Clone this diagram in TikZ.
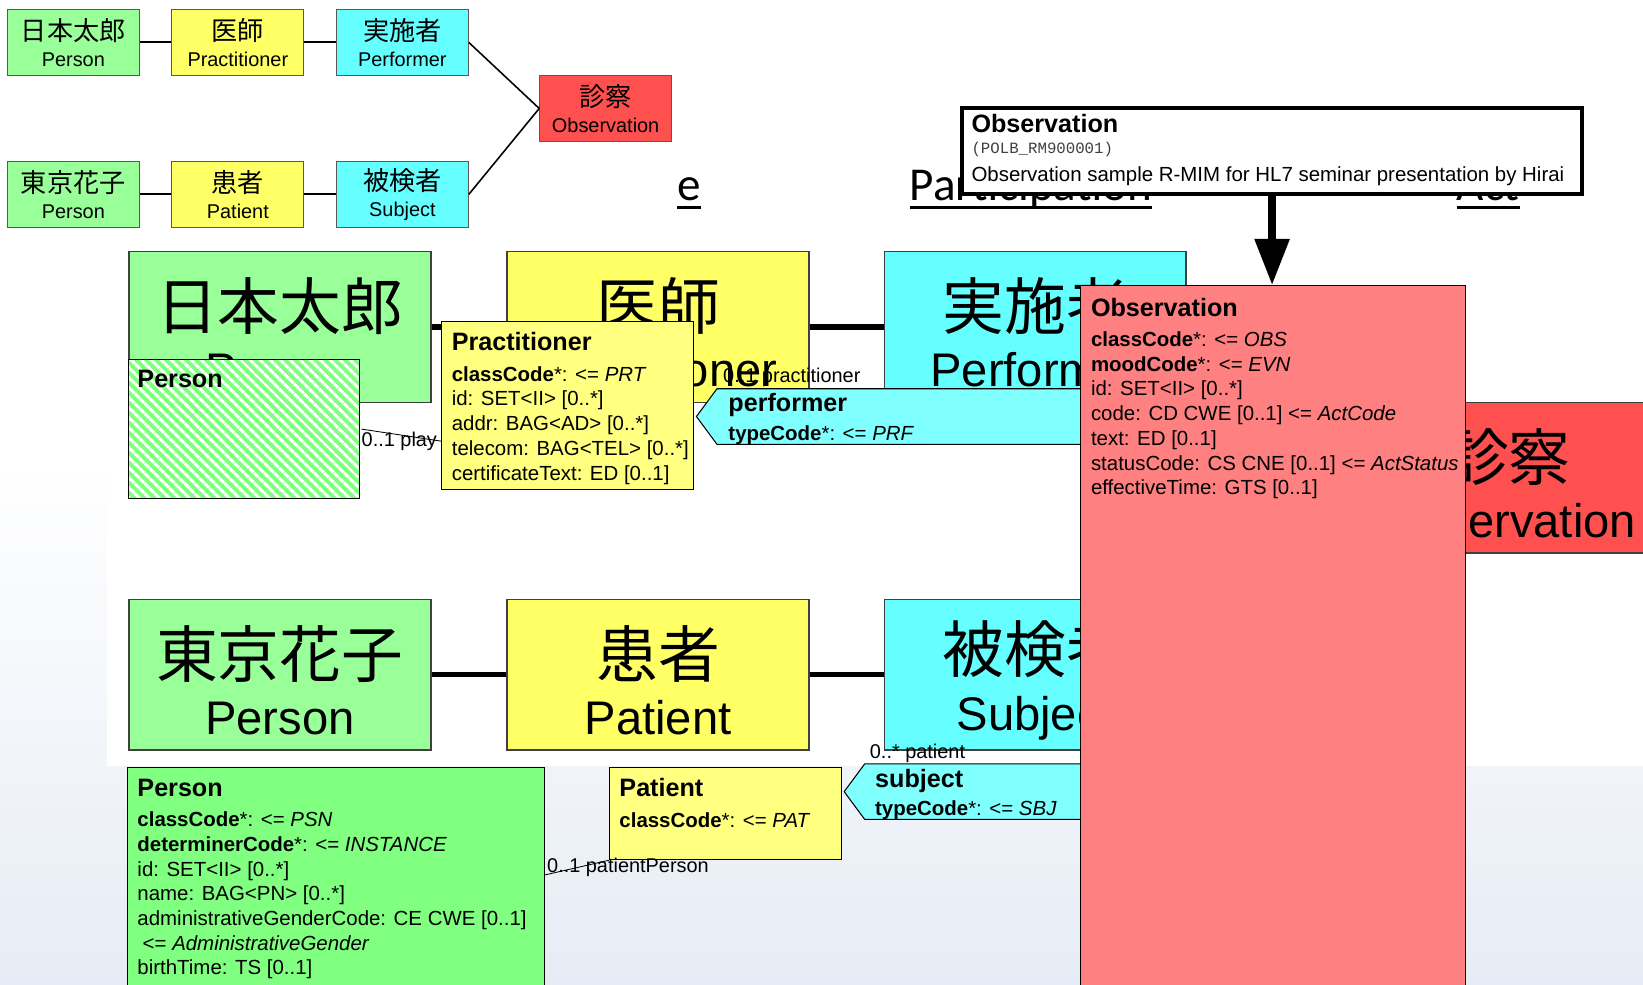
\documentclass[tikz,border=0pt]{standalone}
\usepackage{fontspec}
\setmainfont{Liberation Sans}
\setmonofont{Liberation Mono}
\newfontfamily\jpfont{Noto Sans CJK JP}
\newfontfamily\slidefont{Carlito}
\usepackage{tikz}
\usetikzlibrary{calc,shapes,arrows.meta,patterns.meta}

\definecolor{rolegreen}{HTML}{99FF99}
\definecolor{roleyellow}{HTML}{FFFF66}
\definecolor{rolecyan}{HTML}{66FFFF}
\definecolor{actred}{HTML}{FF5050}
\definecolor{clsgreen}{HTML}{80FF80}
\definecolor{clsyellow}{HTML}{FFFF80}
\definecolor{clscyan}{HTML}{80FFFF}
\definecolor{clsred}{HTML}{FF8080}
\definecolor{slidebg}{HTML}{E6ECF5}

\tikzstyle{minibox}=[rectangle,draw=black!65,line width=0.8pt,minimum width=126pt,
                     minimum height=63pt,inner sep=0pt,align=center,font=\fontsize{19}{25}\selectfont]
\tikzstyle{bigbox}=[rectangle,draw=black!75,line width=1.6pt,minimum width=288pt,
                    minimum height=144pt,inner sep=0pt,align=center,font=\fontsize{45}{55}\selectfont]
\tikzstyle{clsbox}=[rectangle,draw=black,line width=1pt,anchor=north west,inner sep=0pt]
\tikzstyle{partbox}=[signal,signal to=west,signal pointer angle=107,draw=black,line width=1pt,
                     fill=clscyan,minimum height=53pt,minimum width=390pt,anchor=west,inner sep=0pt]
\tikzstyle{clstext}=[anchor=north west,inner sep=0pt,align=left,font=\fontsize{19.5}{23.6}\selectfont]
\tikzstyle{assoclabel}=[anchor=base west,inner sep=0pt,font=\fontsize{19}{22}\selectfont]
\tikzstyle{slideword}=[anchor=base west,inner sep=0pt,font=\slidefont\fontsize{45}{54}\selectfont]

\newcommand\mininame[2]{{\jpfont\fontsize{25}{25}\selectfont #1}\\#2}
\newcommand\bigname[2]{{\jpfont\fontsize{59}{59}\selectfont\rule{0pt}{60pt}#1}\\#2}
\newcommand\clshead[1]{{\fontsize{24}{24}\selectfont\bfseries #1}}

\begin{document}
\begin{tikzpicture}[x=1pt,y=-1pt]
    \useasboundingbox (0,0) rectangle (1568,940);
    \fill[white] (0,0) rectangle (1568,940);
    \shade[top color=white,bottom color=slidebg] (0,440) rectangle (1568,940);
    \fill[white] (102,225) rectangle (1568,731);

    \node [slideword] (hdrole) at (646,191) {e};
    \node [slideword] (hdpart) at (868,191) {Participation};
    \node [slideword] (hdact) at (1390,191) {Act};
    \foreach \w in {hdrole,hdpart,hdact}
        \draw[line width=2.5pt] ([yshift=-7pt]\w.base west) -- ([yshift=-7pt]\w.base east);

    \node [minibox,fill=rolegreen] (mperson1) at (70,40.5) {\mininame{日本太郎}{Person}};
    \node [minibox,fill=roleyellow] (mprac) at (227,40.5) {\mininame{医師}{Practitioner}};
    \node [minibox,fill=rolecyan] (mperf) at (384,40.5) {\mininame{実施者}{Performer}};
    \node [minibox,fill=actred] (mobs) at (578,103.5) {\mininame{診察}{Observation}};
    \node [minibox,fill=rolegreen] (mperson2) at (70,185.5) {\mininame{東京花子}{Person}};
    \node [minibox,fill=roleyellow] (mpat) at (227,185.5) {\mininame{患者}{Patient}};
    \node [minibox,fill=rolecyan] (msubj) at (384,185.5) {\mininame{被検者}{Subject}};
    \foreach \a/\b in {mperson1/mprac,mprac/mperf,mperson2/mpat,mpat/msubj}
        \draw[line width=2pt] (\a.east) -- (\b.west);
    \foreach \a in {mperf,msubj}
        \draw[line width=1.5pt] (\a.east) -- (mobs.west);

    \node [bigbox,fill=rolegreen] (bperson1) at (267,312) {\bigname{日本太郎}{Person}};
    \node [bigbox,fill=roleyellow] (bprac) at (628,312) {\bigname{医師}{Practitioner}};
    \node [bigbox,fill=rolecyan] (bperf) at (988,312) {\bigname{実施者}{Performer}};
    \node [bigbox,fill=actred] (bobs) at (1440,456) {\bigname{診察}{Observation}};
    \node [bigbox,fill=rolegreen] (bperson2) at (267,644) {\bigname{東京花子}{Person}};
    \node [bigbox,fill=roleyellow] (bpat) at (628,644) {\bigname{患者}{Patient}};
    \node [bigbox,fill=rolecyan] (bsubj) at (988,644) {\bigname{被検者}{Subject}};
    \foreach \a/\b in {bperson1/bprac,bprac/bperf,bperson2/bpat,bpat/bsubj}
        \draw[line width=5pt] (\a) -- (\b);

    \node [assoclabel] (praclbl) at (690,365) {0..1 practitioner};
    \node [assoclabel] (patlbl) at (830,724) {0..* patient};

    \node [clsbox,minimum width=221pt,minimum height=132pt,preaction={fill=clsgreen},
           pattern={Lines[angle=-45,distance=6.5pt,line width=3pt]},pattern color=white] (hperson) at (121,342) {};
    \node [clstext] (hpersontxt) at ([xshift=10pt,yshift=-11pt]hperson.north west) {\clshead{Person}};

    \node [clsbox,minimum width=240pt,minimum height=161pt,fill=clsyellow] (prac) at (421,306) {};
    \node [clstext] (practxt) at ([xshift=10pt,yshift=-11pt]prac.north west) {\clshead{Practitioner}\\[5.5pt]
        \textbf{classCode}*: <= \textit{PRT}\\
        id: SET<II> [0..*]\\
        addr: BAG<AD> [0..*]\\
        telecom: BAG<TEL> [0..*]\\
        certificateText: ED [0..1]};
    \draw[line width=0.8pt] (hperson.east) -- ([yshift=-34pt]prac.west);
    \node [assoclabel] (playlbl) at (345,426) {0..1 play};

    \node [partbox] (perfpart) at (664,397.5) {};
    \node [clstext] (perfparttxt) at ([xshift=31pt,yshift=22pt]perfpart.west) {\clshead{performer}\\[3.5pt]
        \textbf{typeCode}*: <= \textit{PRF}};

    \node [partbox] (subjpart) at (805,755.5) {};
    \node [clstext] (subjparttxt) at ([xshift=30pt,yshift=22pt]subjpart.west) {\clshead{subject}\\[4pt]
        \textbf{typeCode}*: <= \textit{SBJ}};

    \node [clsbox,minimum width=222pt,minimum height=88pt,fill=clsyellow] (pat) at (581,732) {};
    \node [clstext] (pattxt) at ([xshift=10pt,yshift=-11pt]pat.north west) {\clshead{Patient}\\[5.5pt]
        \textbf{classCode}*: <= \textit{PAT}};

    \node [clsbox,minimum width=398pt,minimum height=240pt,fill=clsgreen] (pers) at (121,732) {};
    \node [clstext] (perstxt) at ([xshift=10pt,yshift=-11pt]pers.north west) {\clshead{Person}\\[5.5pt]
        \textbf{classCode}*: <= \textit{PSN}\\
        \textbf{determinerCode}*: <= \textit{INSTANCE}\\
        id: SET<II> [0..*]\\
        name: BAG<PN> [0..*]\\
        administrativeGenderCode: CE CWE [0..1]\\
        \hspace*{5pt}<= \textit{AdministrativeGender}\\
        birthTime: TS [0..1]};
    \draw[line width=0.8pt] ([yshift=-103pt]pers.north east) -- (pat.south west);
    \node [assoclabel] (ppersonlbl) at (522,833) {0..1 patientPerson};

    \node [clsbox,minimum width=367pt,minimum height=700pt,fill=clsred] (obs) at (1031,272) {};
    \node [clstext] (obstxt) at ([xshift=10pt,yshift=-12pt]obs.north west) {\clshead{Observation}\\[5.5pt]
        \textbf{classCode}*: <= \textit{OBS}\\
        \textbf{moodCode}*: <= \textit{EVN}\\
        id: SET<II> [0..*]\\
        code: CD CWE [0..1] <= \textit{ActCode}\\
        text: ED [0..1]\\
        statusCode: CS CNE [0..1] <= \textit{ActStatus}\\
        effectiveTime: GTS [0..1]};

    \node [clsbox,line width=4pt,minimum width=592pt,minimum height=82pt,fill=white] (rmimhdr) at (916,101) {};
    \node [clstext] (rmimhdrtxt) at ([xshift=11pt,yshift=-8pt]rmimhdr.north west) {\clshead{Observation}\\[-3.6pt]
        {\ttfamily\fontsize{15}{15}\selectfont\color{black!75}(POLB\_RM900001)}\\[3.4pt]
        Observation sample R-MIM for HL7 seminar presentation by Hirai};
    \draw[line width=7pt,-{Triangle[length=44pt,width=32pt]}] (rmimhdr.south) -- (rmimhdr.south |- obs.north);
\end{tikzpicture}
\end{document}
